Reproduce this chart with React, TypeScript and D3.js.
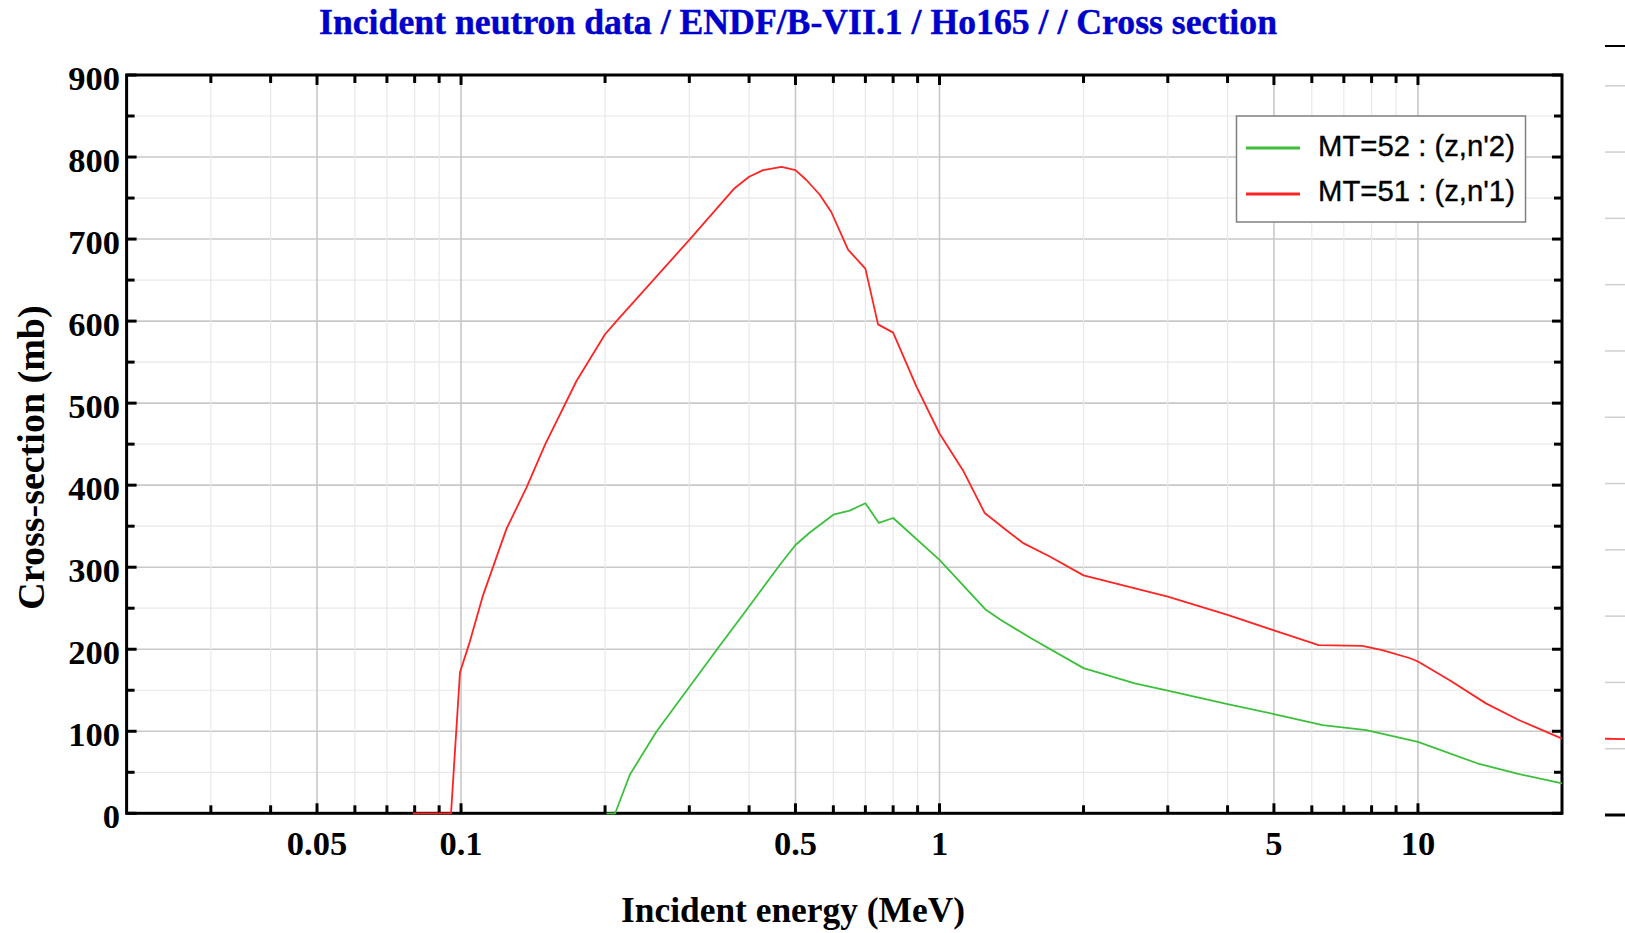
import React, { useEffect } from 'react';
import * as d3 from 'd3';

// ---- data ----
const titleText = 'Incident neutron data / ENDF/B-VII.1 / Ho165 / / Cross section';
const xAxisLabel = 'Incident energy (MeV)';
const yAxisLabel = 'Cross-section (mb)';

// MT=51 : (z,n'1)  energy (MeV) / cross-section (mb)
const mt51Energy = [0.0793, 0.0953, 0.0995, 0.1043, 0.1112, 0.1245, 0.137, 0.15, 0.1743, 0.2, 0.2113, 0.3, 0.373, 0.4, 0.428, 0.4675, 0.5, 0.527, 0.562, 0.594, 0.644, 0.7, 0.744, 0.8, 0.895, 1.0, 1.12, 1.243, 1.38, 1.5, 1.7, 2.0, 3.0, 4.0, 5.0, 6.2, 7.65, 8.42, 9.63, 10, 11.67, 13.87, 16.2, 20];
const mt51Xs = [0, 0, 172, 209, 266, 347, 397, 450, 527, 584, 600, 699, 762, 776, 784, 788, 784, 772, 754, 733, 687, 664, 596, 586, 520, 463, 418, 366, 345, 329, 313, 290, 264, 242, 223, 205, 204, 199, 189, 185, 162, 134, 114, 91];

// MT=52 : (z,n'2)
const mt52Energy = [0.2014, 0.21, 0.2253, 0.256, 0.342, 0.401, 0.464, 0.5, 0.535, 0.6, 0.649, 0.7, 0.747, 0.8, 1.0, 1.25, 1.336, 1.557, 2.0, 2.56, 3, 4, 5, 6.32, 7.8, 10, 13.3, 16.2, 20];
const mt52Xs = [0, 0, 47, 99.5, 199, 253, 303, 327, 342, 364, 369, 378, 354, 360, 309, 248, 236.5, 213, 177, 158.5, 149.5, 133, 121, 107.6, 101.5, 87, 61, 48, 36.5];

const xDomain = [0.02, 20];
const yDomain = [0, 900];
const xTickLabels = [0.05, 0.1, 0.5, 1, 5, 10];
const yMajorTicks = [0, 100, 200, 300, 400, 500, 600, 700, 800, 900];
const yMinorTicks = [50, 150, 250, 350, 450, 550, 650, 750, 850];

const legendLabels = ["MT=52 : (z,n'2)", "MT=51 : (z,n'1)"];
const seriesColors = ['#3cc03c', '#ff2424'];

// fragment of neighbouring panel at the right edge
const neighborDomain = [0, 1160];
const neighborGrid = [100, 200, 300, 400, 500, 600, 700, 800, 900, 1000, 1100];
const neighborRed = [115, 114.5];

export default function App() {
  useEffect(() => {
    document.body.style.margin = '0';
    document.body.style.overflow = 'hidden';
  }, []);

  const W = 1625, H = 933;
  const L = 126.6, R = 1562, T = 75, B = 813.3;

  const x = d3.scaleLog().domain(xDomain).range([L, R]);
  const y = d3.scaleLinear().domain(yDomain).range([B, T]);

  const allXTicks = x.ticks().filter(v => v > xDomain[0] * 1.001 && v < xDomain[1] * 0.999);
  const isMajorX = (v: number) => xTickLabels.some(t => Math.abs(t - v) / t < 1e-6);

  const line = d3.line<[number, number]>().x(d => x(d[0])).y(d => y(d[1]));
  const red = line(mt51Energy.map((e, i) => [e, mt51Xs[i]]) as [number, number][]) || '';
  const green = line(mt52Energy.map((e, i) => [e, mt52Xs[i]]) as [number, number][]) || '';

  const ny = d3.scaleLinear().domain(neighborDomain).range([815, 46]);
  const nx = d3.scaleLinear().domain([0, 1]).range([1605, 1625]);

  const serif = "'Liberation Serif', 'Times New Roman', serif";
  const sans = "'Liberation Sans', Arial, sans-serif";

  return (
    <svg width={W} height={H} style={{ position: 'absolute', left: 0, top: 0, background: '#fff' }}>
      <rect x={0} y={0} width={W} height={H} fill="#fff" />
      {/* title */}
      <text x={319} y={34} fontFamily={serif} fontWeight="bold" fontSize={35} fill="#0000cc"
        stroke="#0000cc" strokeWidth={0.4}
        textLength={958} lengthAdjust="spacingAndGlyphs">{titleText}</text>

      {/* grid */}
      {yMinorTicks.map(v => (
        <line key={'gy' + v} x1={L} x2={R} y1={y(v)} y2={y(v)} stroke="#e8e8e8" strokeWidth={1.2} />
      ))}
      {yMajorTicks.map(v => (
        <line key={'gY' + v} x1={L} x2={R} y1={y(v)} y2={y(v)} stroke="#c8c8c8" strokeWidth={1.6} />
      ))}
      {allXTicks.map(v => (
        <line key={'gx' + v} x1={x(v)} x2={x(v)} y1={T} y2={B}
          stroke={isMajorX(v) ? '#c8c8c8' : '#e8e8e8'} strokeWidth={isMajorX(v) ? 1.6 : 1.2} />
      ))}

      {/* frame */}
      <rect x={L} y={T} width={R - L} height={B - T} fill="none" stroke="#000" strokeWidth={3} />

      {/* ticks */}
      {allXTicks.map(v => {
        const len = isMajorX(v) ? 10 : 8;
        return (
          <g key={'tx' + v}>
            <line x1={x(v)} x2={x(v)} y1={B} y2={B - len} stroke="#000" strokeWidth={3} />
            <line x1={x(v)} x2={x(v)} y1={T} y2={T + len} stroke="#000" strokeWidth={3} />
          </g>
        );
      })}
      {[...yMajorTicks, ...yMinorTicks].map(v => {
        const len = v % 100 === 0 ? 10 : 8;
        return (
          <g key={'ty' + v}>
            <line x1={L} x2={L + len} y1={y(v)} y2={y(v)} stroke="#000" strokeWidth={3} />
            <line x1={R} x2={R - len} y1={y(v)} y2={y(v)} stroke="#000" strokeWidth={3} />
          </g>
        );
      })}

      {/* curves (drawn above the frame, as in the reference) */}
      <path d={green} fill="none" stroke={seriesColors[0]} strokeWidth={1.8} strokeLinejoin="round" />
      <path d={red} fill="none" stroke={seriesColors[1]} strokeWidth={1.8} strokeLinejoin="round" />

      {/* tick labels */}
      {yMajorTicks.map(v => (
        <text key={'ly' + v} x={120} y={y(v) + 14.5} textAnchor="end" fontFamily={serif}
          fontWeight="bold" fontSize={34.5} fill="#000">{v}</text>
      ))}
      {xTickLabels.map(v => (
        <text key={'lx' + v} x={x(v)} y={855} textAnchor="middle" fontFamily={serif}
          fontWeight="bold" fontSize={34.5} fill="#000">{String(v)}</text>
      ))}

      {/* axis labels */}
      <text x={793} y={922} textAnchor="middle" fontFamily={serif} fontWeight="bold" fontSize={35.4}
        fill="#000">{xAxisLabel}</text>
      <text transform="translate(43.5,457.5) rotate(-90)" textAnchor="middle" fontFamily={serif}
        fontWeight="bold" fontSize={38} fill="#000">{yAxisLabel}</text>

      {/* legend */}
      <rect x={1236.5} y={116} width={289} height={106} fill="#fff" stroke="#808080" strokeWidth={1.5} />
      {legendLabels.map((lab, i) => (
        <g key={'lg' + i}>
          <line x1={1246} x2={1300} y1={148 + i * 46} y2={148 + i * 46} stroke={seriesColors[i]} strokeWidth={3} />
          <text x={1318} y={155.5 + i * 45.5} fontFamily={sans} fontSize={29.3} fill="#000"
            stroke="#000" strokeWidth={0.35}>{lab}</text>
        </g>
      ))}

      {/* neighbouring panel fragment */}
      {neighborGrid.map(v => (
        <line key={'ng' + v} x1={nx(0)} x2={nx(1)} y1={ny(v)} y2={ny(v)} stroke="#cfcfcf" strokeWidth={1.5} />
      ))}
      <line x1={nx(0)} x2={nx(1)} y1={ny(0)} y2={ny(0)} stroke="#000" strokeWidth={3} />
      <line x1={nx(0)} x2={nx(1)} y1={46} y2={46} stroke="#000" strokeWidth={2} />
      <line x1={nx(0)} x2={nx(1)} y1={ny(neighborRed[0])} y2={ny(neighborRed[1])} stroke={seriesColors[1]} strokeWidth={1.8} />
    </svg>
  );
}
